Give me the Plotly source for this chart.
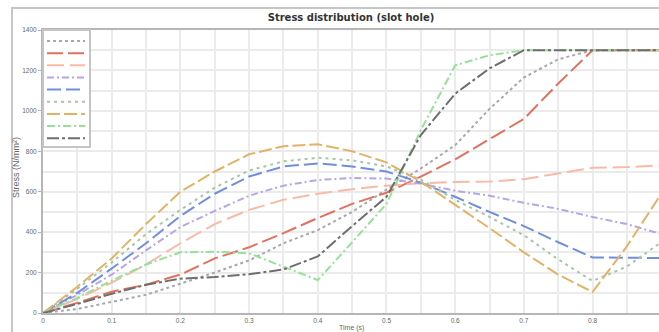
import plotly.graph_objects as go

# ---- data ----
time_s = [0, 0.05, 0.1, 0.15, 0.2, 0.25, 0.3, 0.35, 0.4, 0.45, 0.5,
          0.55, 0.6, 0.65, 0.7, 0.75, 0.8, 0.85, 0.9]

s1 = [0, 20, 55, 90, 145, 200, 260, 345, 410, 500, 610, 715, 830, 1010, 1165, 1255, 1300, 1300, 1300]
s2 = [0, 50, 105, 140, 190, 270, 325, 395, 470, 540, 595, 675, 760, 860, 960, 1135, 1300, 1300, 1300]
s3 = [0, 70, 150, 240, 345, 440, 510, 560, 590, 612, 630, 642, 648, 650, 662, 690, 718, 722, 730]
s4 = [0, 90, 190, 310, 425, 505, 580, 630, 658, 668, 665, 640, 605, 580, 545, 515, 475, 440, 390]
s5 = [0, 100, 220, 345, 480, 590, 675, 725, 740, 725, 700, 645, 575, 500, 430, 350, 275, 272, 272]
s6 = [0, 120, 250, 390, 510, 620, 705, 750, 768, 755, 725, 660, 560, 475, 385, 265, 158, 230, 350]
s7 = [0, 130, 270, 440, 600, 700, 785, 825, 835, 800, 745, 650, 535, 420, 300, 190, 104, 330, 590]
s8 = [0, 75, 160, 240, 300, 303, 295, 230, 163, 350, 540, 905, 1225, 1275, 1300, 1300, 1300, 1300, 1300]
s9 = [0, 45, 95, 140, 170, 178, 192, 215, 280, 430, 575, 880, 1085, 1210, 1300, 1300, 1300, 1300, 1300]

series_values = [s1, s2, s3, s4, s5, s6, s7, s8, s9]
series_names = [" "] * 9
y_ticks = [0, 200, 400, 600, 800, 1000, 1200, 1400]
x_ticks = [0, 0.1, 0.2, 0.3, 0.4, 0.5, 0.6, 0.7, 0.8, 0.9]

title_text = "Stress distribution (slot hole)"
x_title = "Time (s)"
y_title = "Stress (N/mm²)"

# ---- styles ----
colors = ["#a8a8a8", "#e2705f", "#f9b9a7", "#b6a6e6", "#6f8fdc",
          "#a6c6a6", "#e1b366", "#96e196", "#6e6e6e"]
dashes = ["3px,3px", "16px,5px", "17px,6px", "7px,3px,2px,3px", "14px,5px",
          "3px,4px", "13px,4px", "8px,3px,2px,3px", "12px,3px,3px,3px"]

W, H = 659, 332
ML, MR, MT, MB = 43, 0, 30, 19
PW, PH = W - ML - MR, H - MT - MB
FONT = "Liberation Sans, Arial, sans-serif"


def px(x):
    return (x - ML) / PW


def py(y):
    return (H - MB - y) / PH


fig = go.Figure()
for name, vals, c, d in zip(series_names, series_values, colors, dashes):
    fig.add_trace(go.Scatter(x=time_s, y=vals, mode="lines", name=name,
                             line=dict(color=c, width=2, dash=d),
                             showlegend=False, hoverinfo="skip"))

shapes = []
# outer frame
shapes.append(dict(type="rect", xref="paper", yref="paper",
                   x0=px(12), x1=px(W + 20), y0=py(H + 20), y1=py(8),
                   line=dict(color="#c6c6c6", width=2), layer="below"))
# legend box
shapes.append(dict(type="rect", xref="paper", yref="paper",
                   x0=px(43), x1=px(90), y0=py(147), y1=py(30),
                   line=dict(color="#c4c4c4", width=2), fillcolor="white", layer="above"))
for i, (c, d) in enumerate(zip(colors, dashes)):
    yy = 41 + 12.15 * i
    shapes.append(dict(type="line", xref="paper", yref="paper",
                       x0=px(47), x1=px(85), y0=py(yy), y1=py(yy),
                       line=dict(color=c, width=2, dash=d), layer="above"))

axis_common = dict(showline=True, linecolor="#b6b6b6", linewidth=2,
                   gridcolor="#ebebeb", gridwidth=2, zeroline=False,
                   tickcolor="#b6b6b6",
                   tickfont=dict(family=FONT, size=6.5, color="#666666"))

fig.update_layout(
    width=W, height=H,
    margin=dict(l=ML, r=MR, t=MT, b=MB, pad=0),
    paper_bgcolor="white", plot_bgcolor="white",
    showlegend=False,
    font=dict(family=FONT, color="#555555"),
    title=dict(text="<b>" + title_text + "</b>", x=0.5, xref="paper", xanchor="center",
               y=1 - 17 / H, yref="container", yanchor="middle",
               font=dict(family="DejaVu Sans, sans-serif", size=10, color="#333333")),
    xaxis=dict(range=[0, 0.8967], tickvals=x_ticks, mirror=True, ticks="",
               minor=dict(dtick=0.05, showgrid=True, gridcolor="#ebebeb", gridwidth=2),
               **axis_common),
    yaxis=dict(range=[0, 1400], tickvals=y_ticks, ticks="outside", ticklen=3,
               minor=dict(dtick=100, showgrid=True, gridcolor="#ebebeb", gridwidth=2),
               **axis_common),
    shapes=shapes,
    annotations=[
        dict(text=x_title, xref="paper", yref="paper", x=0.5, y=py(327.5),
             xanchor="center", yanchor="middle", showarrow=False,
             font=dict(family=FONT, size=7, color="#666666")),
        dict(text=y_title, xref="paper", yref="paper", x=px(16), y=py(168),
             xanchor="center", yanchor="middle", showarrow=False, textangle=-90,
             font=dict(family=FONT, size=9, color="#666666")),
    ],
)

fig.write_html("out.html", config={"displayModeBar": False},
               post_script="document.body.style.margin='0';document.body.style.overflow='hidden';")
